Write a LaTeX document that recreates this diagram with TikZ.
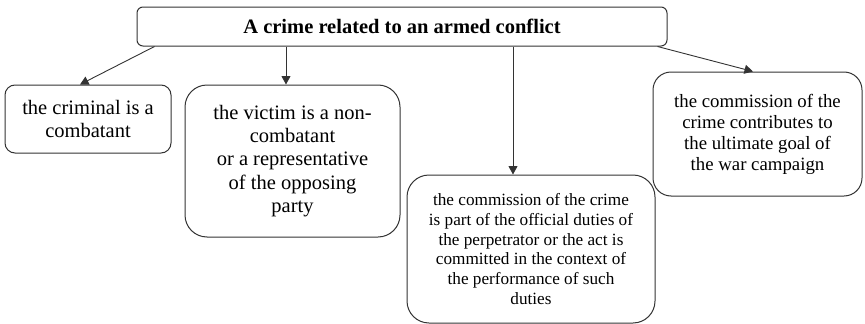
\documentclass[tikz,border=0pt]{standalone}
\usepackage{fontspec}
\setmainfont{LiberationSerif}[
  Extension = .ttf,
  UprightFont = *-Regular,
  BoldFont = *-Bold]
\usetikzlibrary{calc,arrows.meta}

\begin{document}
\begin{tikzpicture}[x=1pt,y=-1pt,
  box/.style={draw=black!80, line width=1pt, align=center, inner sep=0pt, fill=white},
  arr/.style={draw=black!80, line width=0.9pt, -{Triangle[length=8.5pt,width=9pt]}}
]
\useasboundingbox (0,0) rectangle (865,324);

% root
\node[box, rounded corners=6pt, minimum width=530pt, minimum height=39pt,
      font=\fontsize{20.5}{24}\selectfont\bfseries] (top) at (402,26.5)
  {A crime related to an armed conflict};

% criteria
\node[box, rounded corners=10pt, minimum width=166pt, minimum height=68pt,
      font=\fontsize{20.5}{23.5}\selectfont] (c1) at (88,119)
  {the criminal is a\\combatant};

\node[box, rounded corners=22pt, minimum width=215pt, minimum height=152pt,
      font=\fontsize{20.5}{23.3}\selectfont] (c2) at (292.5,161)
  {the victim is a non-\\combatant\\or a representative\\of the opposing\\party};

\node[box, rounded corners=22pt, minimum width=248pt, minimum height=148pt,
      font=\fontsize{17.2}{19.8}\selectfont] (c3) at (531,249)
  {the commission of the crime\\is part of the official duties of\\the perpetrator or the act is\\committed in the context of\\the performance of such\\duties};

\node[box, rounded corners=18pt, minimum width=209pt, minimum height=124pt,
      font=\fontsize{18.8}{21}\selectfont] (c4) at (757.5,134)
  {the commission of the\\crime contributes to\\the ultimate goal of\\the war campaign};

% connectors
\coordinate (t2) at ($(c2.north)+(-6.5,0)$);
\coordinate (t3) at ($(c3.north)+(-18,0)$);
\draw[arr] ($(top.south west)+(18,0)$) -- ($(c1.north)+(-8,0)$);
\draw[arr] (top.south -| t2) -- (t2);
\draw[arr] (top.south -| t3) -- (t3);
\draw[arr] ($(top.south east)+(-10,0)$) -- ($(c4.north)+(-4.5,0)$);
\end{tikzpicture}
\end{document}
